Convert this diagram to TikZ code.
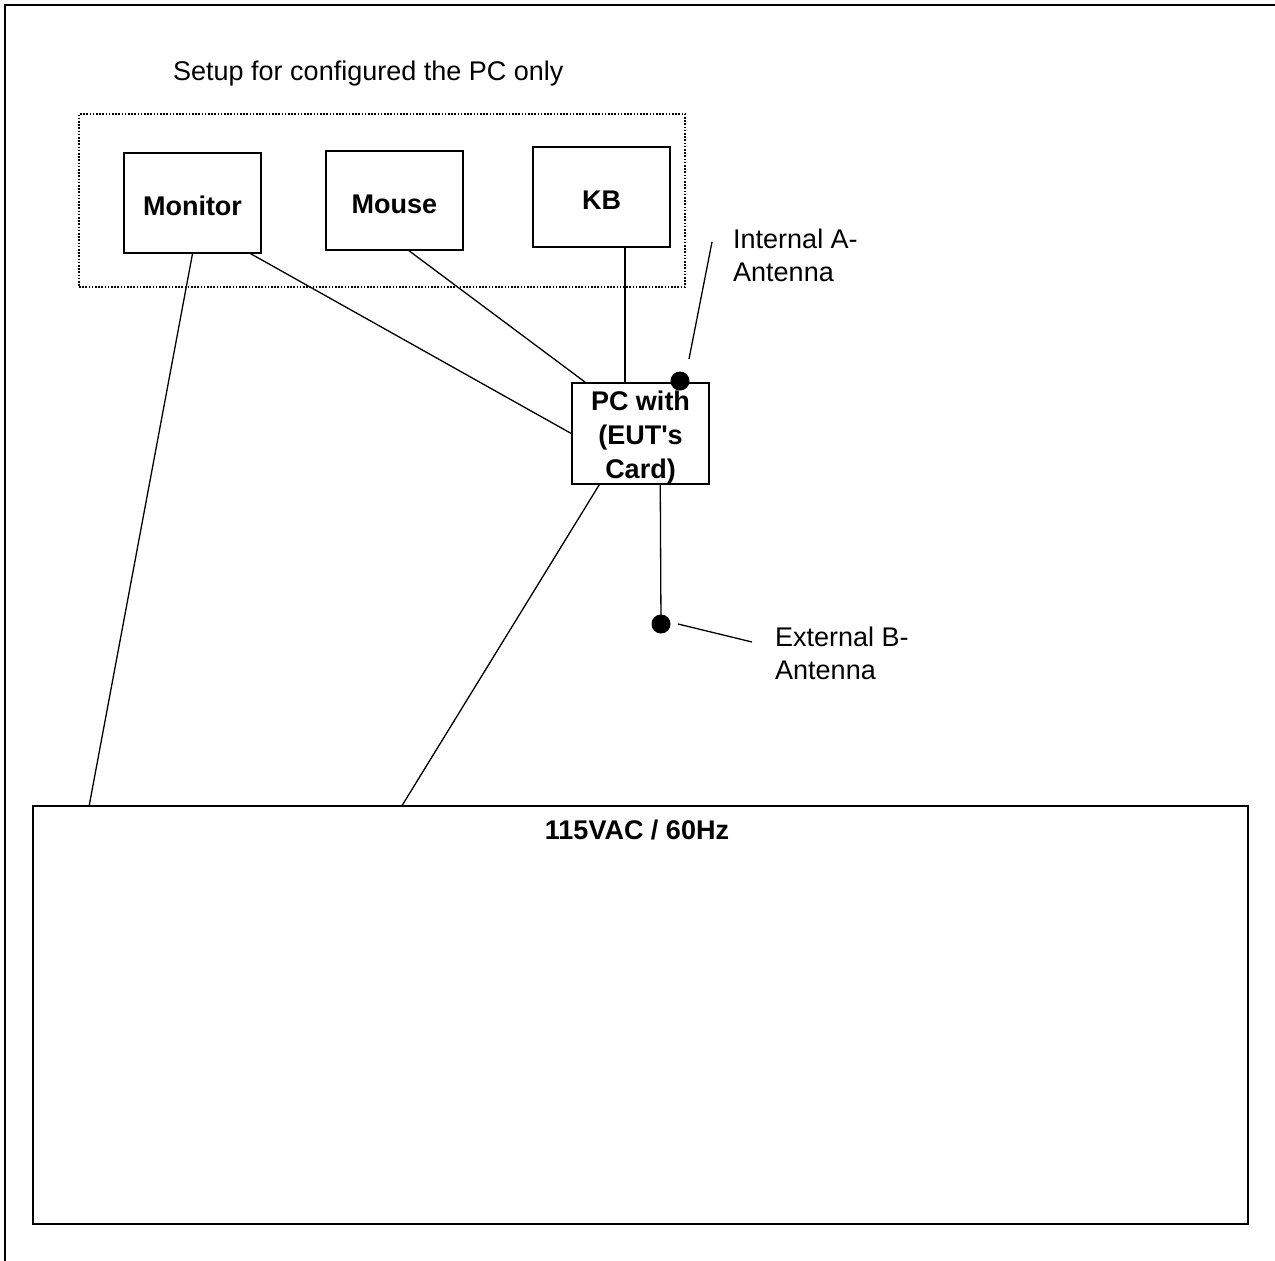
\documentclass[tikz,border=0pt]{standalone}
\usepackage{fontspec}
\setmainfont{Liberation Sans}[Ligatures=TeXOff]
\begin{document}
\begin{tikzpicture}[x=1pt,y=-1pt,
  box/.style={draw,line width=1.5pt,rectangle,inner sep=0pt,font=\fontsize{27}{34}\selectfont\bfseries,align=center},
  wire/.style={line width=1.3pt},
  dot/.style={circle,fill=black,inner sep=0pt,minimum size=19pt},
  lbl/.style={font=\fontsize{27}{33}\selectfont,align=left,inner sep=0pt}]
\useasboundingbox (0,0) rectangle (1275,1261);
% outer frame (only top and left visible)
\draw[line width=2.2pt] (5,1275) -- (5,5) -- (1290,5);
% title
\node[lbl,anchor=base west] (title) at (173,80) {Setup for configured the PC only};
% dotted group
\node[draw,line width=1.5pt,dash pattern=on 1.6pt off 1.6pt,minimum width=606pt,minimum height=173pt,inner sep=0pt] (grp) at (382,200.5) {};
% devices
\node[box,minimum width=137pt,minimum height=100pt] (mon) at (192.5,203) {};
\node[box,draw=none] (montxt) at (192.5,206) {Monitor};
\node[box,minimum width=137pt,minimum height=99pt] (mouse) at (394.5,200.5) {};
\node[box,draw=none] (mousetxt) at (394.5,204) {Mouse};
\node[box,minimum width=137pt,minimum height=100pt] (kb) at (601.5,197) {};
\node[box,draw=none] (kbtxt) at (601.5,200) {KB};
\node[box,minimum width=137pt,minimum height=101pt] (pc) at (640.5,433.5) {};
\node[box,draw=none,anchor=base] (pctxt) at (640.5,478) {PC with\\(EUT's\\Card)};
% power strip
\node[draw,line width=1.5pt,minimum width=1215pt,minimum height=418pt,inner sep=0pt] (pw) at (640.5,1015) {};
\node[font=\fontsize{27}{33}\selectfont\bfseries,anchor=base,inner sep=0pt] (pwlbl) at (637,839) {115VAC / 60Hz};
% antennas
\node[dot] (intdot) at (680,381) {};
\node[dot] (extdot) at (661,624) {};
\coordinate (intA) at (689,359);
\coordinate (intB) at (712,242);
\coordinate (extA) at (678,624);
\coordinate (extB) at (752,642);
\node[lbl,anchor=base west] (intlbl) at (733,281) {Internal A-\\Antenna};
\node[lbl,anchor=base west] (extlbl) at (775,679) {External B-\\Antenna};
% connectors
\draw[wire] (mon.south) -- ([xshift=57pt]pw.north west);
\draw[wire] ([xshift=-11pt]mon.south east) -- (pc.west);
\draw[wire] ([xshift=14.5pt]mouse.south) -- ([xshift=14pt]pc.north west);
\draw[wire] ([xshift=23.5pt]kb.south) -- ([xshift=23.5pt]kb.south |- pc.north);
\draw[wire] ([xshift=28pt]pc.south west) -- ([xshift=370pt]pw.north west);
\draw[wire] ([xshift=89pt]pc.south west) -- (extdot.center);
\draw[wire] (intA) -- (intB);
\draw[wire] (extA) -- (extB);
\end{tikzpicture}
\end{document}
